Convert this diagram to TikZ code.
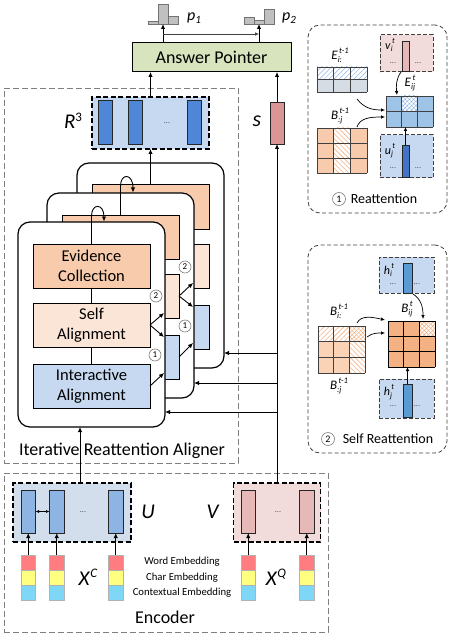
\documentclass[tikz,border=0pt]{standalone}
\usepackage{fontspec}
\setmainfont{Carlito}
\usetikzlibrary{arrows.meta,patterns.meta,calc}
\definecolor{apgreen}{HTML}{D7E4BD}
\definecolor{ecorange}{HTML}{F8CBAD}
\definecolor{sapeach}{HTML}{FBE5D6}
\definecolor{iablue}{HTML}{C6D9F1}
\definecolor{rboxblue}{HTML}{C6D9F1}
\definecolor{rbar}{HTML}{4F86D6}
\definecolor{sred}{HTML}{D99694}
\definecolor{uboxfill}{HTML}{D3DEEC}
\definecolor{ubar}{HTML}{8EB4E3}
\definecolor{vboxfill}{HTML}{F2DCDB}
\definecolor{vbar}{HTML}{E6B9B8}
\definecolor{embred}{HTML}{FF7C80}
\definecolor{embyel}{HTML}{FFFF80}
\definecolor{embcyan}{HTML}{7FD7F7}
\definecolor{pgray}{HTML}{C0C0C0}
\definecolor{eigray}{HTML}{D6DCE4}
\definecolor{hatchblue}{HTML}{8EB4E3}
\definecolor{eijblue}{HTML}{9DC3E6}
\definecolor{hatchorange}{HTML}{F4B183}
\definecolor{bijorange}{HTML}{F4B183}
\definecolor{bpeach}{HTML}{FAD3B7}
\definecolor{hbar}{HTML}{5B9BD5}
\definecolor{ujbar}{HTML}{4472C4}
\definecolor{dashgray}{HTML}{7F7F7F}
\definecolor{darkln}{HTML}{404040}
\newcommand{\FS}[1]{\fontsize{#1}{#1}\selectfont}
\newcommand{\SubSup}[4]{\textit{#2}\makebox[0pt][l]{\raisebox{-0.45ex}{\FS{#1}\textit{#3}}}\raisebox{1.0ex}{\FS{#1}\textit{#4}}}
\newcommand{\mcell}[7]{\path[#7] ({#1+#3*#5},{#2+#4*#6}) rectangle ++(#5,#6);}
\newcommand{\gridlines}[7]{%
  \foreach \i in {0,...,#3} \draw[#7] ({#1+\i*#5},#2) -- ({#1+\i*#5},{#2+#4*#6});
  \foreach \j in {0,...,#4} \draw[#7] (#1,{#2+\j*#6}) -- ({#1+#3*#5},{#2+\j*#6});}
\tikzset{
  arr/.style={-{Latex[length=5pt,width=4.5pt]}, line width=0.9pt},
  arrs/.style={-{Latex[length=4pt,width=3.6pt]}, line width=0.7pt},
  box/.style={draw=black, line width=1pt, inner sep=0pt, outer sep=0pt, anchor=north west, align=center},
  layer/.style={draw=black, line width=1.2pt, fill=white, rounded corners=12pt, inner sep=0pt, outer sep=0pt, anchor=north west, minimum width=147pt, minimum height=205pt},
  bigdash/.style={draw=dashgray, line width=0.9pt, dash pattern=on 6pt off 3pt, inner sep=0pt, outer sep=0pt, anchor=north west},
  thickdash/.style={draw=black, line width=1.4pt, dash pattern=on 5pt off 2.5pt, inner sep=0pt, outer sep=0pt, anchor=north west},
  paneldash/.style={draw=darkln, line width=0.8pt, dash pattern=on 4pt off 2.5pt, rounded corners=12pt, inner sep=0pt, outer sep=0pt, anchor=north west},
  smalldash/.style={draw=darkln, line width=1pt, dash pattern=on 4pt off 2pt, inner sep=0pt, outer sep=0pt, anchor=north west},
  bar/.style={draw=black!85, line width=0.9pt, inner sep=0pt, outer sep=0pt, anchor=north west},
  pbar/.style={draw=black!55, fill=pgray, line width=0.7pt, inner sep=0pt, outer sep=0pt, anchor=north west, minimum width=10pt},
  emb/.style={draw=black!30, line width=0.6pt, inner sep=0pt, outer sep=0pt, anchor=north west, minimum width=14.5pt, minimum height=15pt},
  numc/.style={circle, draw=dashgray, line width=0.6pt, fill=white, inner sep=0pt, minimum size=12pt, font=\FS{9}},
  cellln/.style={draw=darkln, line width=0.8pt},
  celllb/.style={draw=black, line width=0.8pt},
  boxtxt/.style={font=\fontsize{16.5}{19.5}\selectfont},
  dots/.style={font=\FS{8}, text=darkln, inner sep=0pt},
}
\begin{document}
\begin{tikzpicture}[x=1pt,y=-1pt]
\useasboundingbox (0,0) rectangle (457,636);
% ---------- group frames ----------
\node[bigdash, minimum width=234pt, minimum height=375pt] (IRA) at (4,88) {};
\node[bigdash, minimum width=324pt, minimum height=159pt] (ENC) at (4,473) {};
\node[font=\FS{18}, inner sep=0pt] (iralab) at (122,451) {Iterative Reattention Aligner};
\node[font=\FS{18}, inner sep=0pt] (enclab) at (165,617) {Encoder};
% ---------- answer pointer and outputs ----------
\node[box, fill=apgreen, minimum width=159pt, minimum height=29pt, font=\FS{18}] (AP) at (132,43) {Answer Pointer};
\node[pbar, minimum height=3pt] (p1a) at (148,21) {};
\node[pbar, minimum height=20pt] (p1b) at (158,4) {};
\node[pbar, minimum height=8pt] (p1c) at (168,16) {};
\node[pbar, minimum height=7pt] (p2a) at (244,17) {};
\node[pbar, minimum height=4pt] (p2b) at (254,20) {};
\node[pbar, minimum height=15pt] (p2c) at (264,9) {};
\node[font=\FS{16}, inner sep=0pt] (p1lab) at (194,18) {\textit{p}\raisebox{-0.35ex}{\FS{11}\textit{1}}};
\node[font=\FS{16}, inner sep=0pt] (p2lab) at (289,18) {\textit{p}\raisebox{-0.35ex}{\FS{11}\textit{2}}};
\draw[arr] (AP.north -| p1b.south) -- (p1b.south);
\draw[arr] (AP.north -| p2b.south) -- (p2b.south);
\coordinate (h1) at (163,34);
\coordinate (h2) at (259,34);
\draw[-{Latex[length=4pt,width=3.5pt]}, line width=0.6pt, draw=darkln] (h1) -- (h2);
% ---------- R3 and s ----------
\node[thickdash, fill=rboxblue, minimum width=117pt, minimum height=52pt] (R3) at (92,97) {};
\node[bar, fill=rbar, minimum width=14pt, minimum height=44pt] (r1) at (98,100) {};
\node[bar, fill=rbar, minimum width=14pt, minimum height=44pt] (r2) at (128,100) {};
\node[bar, fill=rbar, minimum width=14pt, minimum height=44pt] (r3) at (187,100) {};
\node[dots] (rdots) at (167,123) {...};
\node[font=\FS{21}, inner sep=0pt] (R3lab) at (73,121) {\textit{R}\raisebox{0.75ex}{\FS{13}3}};
\node[bar, fill=sred, minimum width=14pt, minimum height=42pt] (s) at (270,102) {};
\node[font=\FS{22}, inner sep=0pt] (slab) at (257,121) {\textit{s}};
\draw[arr] (R3.north) -- (R3.north |- AP.south);
\draw[arr] (s.north) -- (s.north |- AP.south);
% ---------- back layer ----------
\node[layer] (L3) at (77,163) {};
\node[box, fill=ecorange, minimum width=117pt, minimum height=44pt] (EC3) at (92,185) {};
\node[box, fill=sapeach, minimum width=117pt, minimum height=44pt] (SA3) at (92,244) {};
\node[box, fill=iablue, minimum width=117pt, minimum height=44pt] (IA3) at (92,305) {};
\draw[arr] (EC3.north) -- (EC3.north |- R3.south);
% ---------- middle layer ----------
\node[layer] (L2) at (47,193) {};
\node[box, fill=ecorange, minimum width=117pt, minimum height=44pt] (EC2) at (62,215) {};
\node[box, fill=sapeach, minimum width=117pt, minimum height=44pt] (SA2) at (62,274) {};
\node[box, fill=iablue, minimum width=117pt, minimum height=44pt] (IA2) at (62,335) {};
\coordinate (t2) at (133,192.5);
\draw[arr] (EC2.north) -- (120.5,186) .. controls (120.5,173) and (133,173) .. (t2);
\coordinate (f2a) at (193,283);
\coordinate (f2b) at (193,307);
\coordinate (f2c) at (193,343);
\draw[arr] (SA2.east) -- (f2a);
\draw[arr] (SA2.east) -- (f2b);
\draw[arr] (IA2.east) -- (f2c);
\node[numc] (c2b) at (185,267) {2};
\node[numc] (c1b) at (185,326) {1};
% ---------- front layer ----------
\node[layer] (L1) at (18,222) {};
\node[box, boxtxt, fill=ecorange, minimum width=117pt, minimum height=44pt] (EC1) at (33,244) {Evidence\\Collection};
\node[box, boxtxt, fill=sapeach, minimum width=117pt, minimum height=44pt] (SA1) at (33,303) {Self\\Alignment};
\node[box, boxtxt, fill=iablue, minimum width=117pt, minimum height=44pt] (IA1) at (33,364) {Interactive\\Alignment};
\draw[line width=0.9pt] (EC1.south) -- (SA1.north);
\draw[line width=0.9pt] (SA1.south) -- (IA1.north);
\coordinate (t1) at (104,221.5);
\draw[arr] (EC1.north) -- (91.5,216) .. controls (91.5,203) and (104,203) .. (t1);
\coordinate (f1a) at (164,313);
\coordinate (f1b) at (164,337);
\coordinate (f1c) at (164,373);
\draw[arr] (SA1.east) -- (f1a);
\draw[arr] (SA1.east) -- (f1b);
\draw[arr] (IA1.east) -- (f1c);
\node[numc] (c2a) at (156,296) {2};
\node[numc] (c1a) at (155,355) {1};
% ---------- inputs from question side ----------
\coordinate (inL3) at (277,353);
\coordinate (inL2) at (277,383);
\coordinate (inL1) at (277,412);
\draw[arr] (inL3) -- (inL3 -| L3.east);
\draw[arr] (inL2) -- (inL2 -| L2.east);
\draw[arr] (inL1) -- (inL1 -| L1.east);
% ---------- encoder ----------
\node[thickdash, fill=uboxfill, minimum width=118pt, minimum height=59pt] (U) at (13,483) {};
\node[thickdash, fill=vboxfill, minimum width=87pt, minimum height=59pt] (V) at (233.5,483) {};
\foreach \n/\xx in {1/21,2/49.5,3/108.5}{
  \node[bar, fill=ubar, minimum width=14.5pt, minimum height=43pt] (u\n) at (\xx,490) {};
  \node[emb, fill=embred] (cr\n) at (\xx,555) {};
  \node[emb, fill=embyel] (cy\n) at (\xx,570) {};
  \node[emb, fill=embcyan] (cc\n) at (\xx,585) {};
  \draw[arr] (cr\n.north) -- (u\n.south);
}
\foreach \n/\xx in {1/241,2/299.5}{
  \node[bar, fill=vbar, minimum width=14.5pt, minimum height=43pt] (v\n) at (\xx,490) {};
  \node[emb, fill=embred] (qr\n) at (\xx,555) {};
  \node[emb, fill=embyel] (qy\n) at (\xx,570) {};
  \node[emb, fill=embcyan] (qc\n) at (\xx,585) {};
  \draw[arr] (qr\n.north) -- (v\n.south);
}
\draw[{Latex[length=3.5pt,width=3pt]}-{Latex[length=3.5pt,width=3pt]}, line width=0.6pt] (u1.east) -- (u2.west);
\node[dots] (udots) at (83,512) {...};
\node[dots] (vdots) at (278,512) {...};
\node[font=\FS{21}, inner sep=0pt] (Ulab) at (148,512) {\textit{U}};
\node[font=\FS{21}, inner sep=0pt] (Vlab) at (213,512) {\textit{V}};
\node[font=\FS{21}, inner sep=0pt] (XClab) at (88,577) {\textit{X}\raisebox{0.8ex}{\FS{13}\textit{C}}};
\node[font=\FS{21}, inner sep=0pt] (XQlab) at (276,577) {\textit{X}\raisebox{0.8ex}{\FS{13}\textit{Q}}};
\node[font=\FS{10.7}, inner sep=0pt] (we) at (182,562) {Word Embedding};
\node[font=\FS{10.7}, inner sep=0pt] (ce) at (182,578) {Char Embedding};
\node[font=\FS{10.7}, inner sep=0pt] (cte) at (182,593) {Contextual Embedding};
\coordinate (uin) at (80,483);
\draw[arr] (uin) -- (uin |- L1.south);
\draw[arr] (V.north) -- (V.north |- s.south);
% ---------- reattention panel ----------
\node[paneldash, minimum width=139pt, minimum height=188pt] (RP) at (308,25) {};
% E_{i:}
\foreach \c in {0,1,2}{
  \mcell{317}{67}{\c}{0}{16.667}{12.5}{pattern={Lines[angle=45,distance=3.5pt,line width=0.5pt]}, pattern color=hatchblue}
  \mcell{317}{67}{\c}{1}{16.667}{12.5}{fill=eigray}
}
\gridlines{317}{67}{3}{2}{16.667}{12.5}{cellln}
\node[inner sep=0pt, outer sep=0pt, anchor=north west, minimum width=50pt, minimum height=25pt] (Ei) at (317,67) {};
\node[font=\FS{13}, inner sep=0pt] (Eilab) at (340,55) {\SubSup{8.5}{E}{i:}{\,t-1}};
% B_{:j}
\foreach \r in {0,1,2}{
  \mcell{317}{128}{0}{\r}{16.667}{15}{fill=ecorange}
  \mcell{317}{128}{1}{\r}{16.667}{15}{fill=white}
  \mcell{317}{128}{1}{\r}{16.667}{15}{pattern={Lines[angle=-45,distance=3.5pt,line width=0.6pt]}, pattern color=hatchorange}
  \mcell{317}{128}{2}{\r}{16.667}{15}{fill=ecorange}
}
\gridlines{317}{128}{3}{3}{16.667}{15}{cellln}
\node[inner sep=0pt, outer sep=0pt, anchor=north west, minimum width=50pt, minimum height=45pt] (Bj) at (317,128) {};
\node[font=\FS{13}, inner sep=0pt] (Bjlab) at (340,116) {\SubSup{8.5}{B}{:j}{\,t-1}};
% E_{ij}
\foreach \c in {0,1,2}{\foreach \r in {0,1}{\mcell{386}{96}{\c}{\r}{15.667}{15.5}{fill=eijblue}}}
\mcell{386}{96}{1}{0}{15.667}{15.5}{fill=white}
\mcell{386}{96}{1}{0}{15.667}{15.5}{pattern={Hatch[angle=45,distance=3pt,line width=0.5pt]}, pattern color=hatchblue}
\gridlines{386}{96}{3}{2}{15.667}{15.5}{cellln}
\node[inner sep=0pt, outer sep=0pt, anchor=north west, minimum width=47pt, minimum height=31pt] (Eij) at (386,96) {};
\node[font=\FS{13}, inner sep=0pt] (Eijlab) at (410,83) {\SubSup{8.5}{E}{ij}{\,t}};
% v_i
\node[smalldash, fill=vboxfill, minimum width=53pt, minimum height=37pt] (vbox) at (380,35) {};
\node[bar, fill=vbar, minimum width=7pt, minimum height=30pt] (vib) at (402,41) {};
\node[font=\FS{12}, inner sep=0pt] (vilab) at (390,45) {\SubSup{8}{v}{i}{\,t}};
\node[dots] (vd1) at (393,63) {...};
\node[dots] (vd2) at (418,63) {...};
% u_j
\node[smalldash, fill=rboxblue, minimum width=53pt, minimum height=43pt] (ubox) at (380,135) {};
\node[bar, fill=ujbar, minimum width=7pt, minimum height=32pt] (ujb) at (402,145) {};
\node[font=\FS{12}, inner sep=0pt] (ujlab) at (390,151) {\SubSup{8}{u}{j}{\,t}};
\node[dots] (ud1) at (393,168) {...};
\node[dots] (ud2) at (418,168) {...};
% arrows
\coordinate (a1s) at (357,99);
\coordinate (a1e) at (385,110);
\draw[arrs] (a1s) .. controls (364,108) and (372,110) .. (a1e);
\coordinate (a2s) at (357,127);
\coordinate (a2e) at (385,117);
\draw[arrs] (a2s) .. controls (360,118) and (370,117) .. (a2e);
\coordinate (a3s) at (401,72);
\coordinate (a3e) at (397,95);
\draw[arrs] (a3s) .. controls (396,79) and (396,86) .. (a3e);
\draw[arrs] (ujb.north) -- (ujb.north |- Eij.south);
\node[numc, minimum size=13pt, font=\FS{10}] (rc1) at (339,199) {1};
\node[font=\FS{14}, inner sep=0pt] (rplab) at (384,199) {Reattention};
% ---------- self reattention panel ----------
\node[paneldash, minimum width=139pt, minimum height=208pt] (SP) at (308,245) {};
\node[smalldash, fill=rboxblue, minimum width=55pt, minimum height=36pt] (hibox) at (379,257) {};
\node[bar, fill=hbar, minimum width=9pt, minimum height=30pt] (hib) at (403,263) {};
\node[font=\FS{12}, inner sep=0pt] (hilab) at (389,270) {\SubSup{8}{h}{i}{\,t}};
\node[dots] (hd1) at (393,284) {...};
\node[dots] (hd2) at (417,284) {...};
% B_ij^t
\foreach \c in {0,1,2}{\foreach \r in {0,1,2}{\mcell{388}{321}{\c}{\r}{15.667}{15.333}{fill=bijorange}}}
\mcell{388}{321}{2}{0}{15.667}{15.333}{fill=white}
\mcell{388}{321}{2}{0}{15.667}{15.333}{pattern={Hatch[angle=45,distance=3pt,line width=0.5pt]}, pattern color=hatchorange}
\gridlines{388}{321}{3}{3}{15.667}{15.333}{celllb}
\node[inner sep=0pt, outer sep=0pt, anchor=north west, minimum width=47pt, minimum height=46pt] (Bij) at (388,321) {};
\node[font=\FS{13}, inner sep=0pt] (Bijlab) at (407,309) {\SubSup{8.5}{B}{ij}{\,t}};
% B_{i:} / B_{:j} (t-1)
\foreach \c in {0,1,2}{\foreach \r in {0,1,2}{\mcell{318}{326}{\c}{\r}{15.667}{15.667}{fill=bpeach}}}
\foreach \c in {0,1}{
  \mcell{318}{326}{\c}{0}{15.667}{15.667}{fill=white}
  \mcell{318}{326}{\c}{0}{15.667}{15.667}{pattern={Lines[angle=45,distance=3.5pt,line width=0.6pt]}, pattern color=hatchorange}
}
\foreach \r in {1,2}{
  \mcell{318}{326}{2}{\r}{15.667}{15.667}{fill=white}
  \mcell{318}{326}{2}{\r}{15.667}{15.667}{pattern={Lines[angle=-45,distance=3.5pt,line width=0.6pt]}, pattern color=hatchorange}
}
\mcell{318}{326}{2}{0}{15.667}{15.667}{fill=white}
\mcell{318}{326}{2}{0}{15.667}{15.667}{pattern={Hatch[angle=45,distance=3pt,line width=0.5pt]}, pattern color=hatchorange}
\gridlines{318}{326}{3}{3}{15.667}{15.667}{cellln}
\node[inner sep=0pt, outer sep=0pt, anchor=north west, minimum width=47pt, minimum height=47pt] (Bi) at (318,326) {};
\node[font=\FS{13}, inner sep=0pt] (Bilab) at (339,311) {\SubSup{8.5}{B}{i:}{\,t-1}};
\node[font=\FS{13}, inner sep=0pt] (Bjlab2) at (339,386) {\SubSup{8.5}{B}{:j}{\,t-1}};
% h_j
\node[smalldash, fill=rboxblue, minimum width=55pt, minimum height=39pt] (hjbox) at (379,379) {};
\node[bar, fill=hbar, minimum width=9pt, minimum height=33pt] (hjb) at (403,384) {};
\node[font=\FS{12}, inner sep=0pt] (hjlab) at (389,392) {\SubSup{8}{h}{j}{\,t}};
\node[dots] (hjd1) at (393,406) {...};
\node[dots] (hjd2) at (417,406) {...};
% arrows
\coordinate (b1s) at (357,323);
\coordinate (b1e) at (385,320);
\draw[arrs] (b1s) .. controls (361,315) and (372,317) .. (b1e);
\coordinate (b2s) at (367,337);
\coordinate (b2e) at (385,333);
\draw[arrs] (b2s) .. controls (372,333) and (377,333) .. (b2e);
\coordinate (b3s) at (413,294);
\coordinate (b3e) at (423,319);
\draw[arrs] (b3s) .. controls (421,299) and (423,307) .. (b3e);
\draw[arrs] (hjb.north) -- (hjb.north |- Bij.south);
\node[numc, minimum size=13pt, font=\FS{10}] (sc2) at (328,439) {2};
\node[font=\FS{14}, inner sep=0pt] (splab) at (388,439) {Self Reattention};
\end{tikzpicture}
\end{document}
